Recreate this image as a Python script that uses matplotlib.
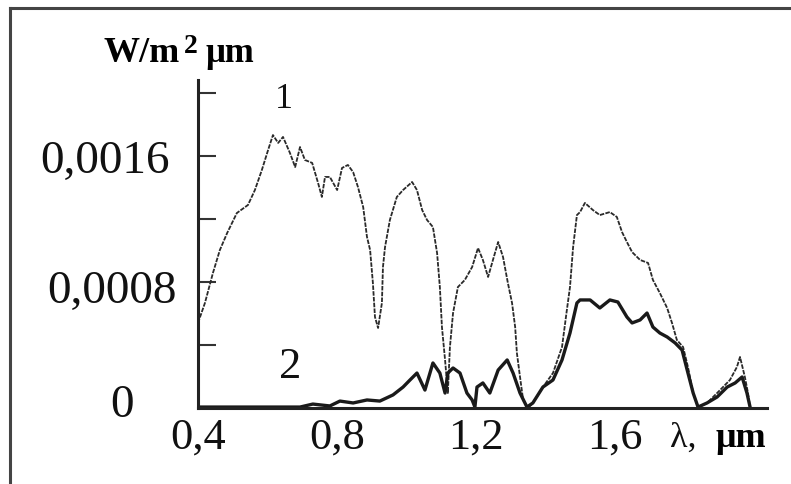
import numpy as np
import matplotlib.pyplot as plt
from matplotlib.lines import Line2D

plt.rcParams['font.family'] = ['Liberation Serif', 'DejaVu Serif']

# curve 1 (thin, upper spectrum), irradiance in units of 1e-4 W/m2 um
wl1 = [0.400, 0.420, 0.443, 0.463, 0.484, 0.512, 0.544, 0.564, 0.584, 0.602,
       0.616, 0.631, 0.645, 0.665, 0.680, 0.694, 0.708, 0.729, 0.746, 0.757,
       0.766, 0.780, 0.801, 0.815, 0.832, 0.847, 0.861, 0.876, 0.887, 0.896,
       0.904, 0.910, 0.919, 0.930, 0.933, 0.939, 0.953, 0.973, 0.991, 1.017,
       1.031, 1.046, 1.060, 1.077, 1.089, 1.097, 1.103, 1.112, 1.120, 1.126,
       1.135, 1.149, 1.169, 1.190, 1.207, 1.221, 1.236, 1.250, 1.265, 1.279,
       1.293, 1.305, 1.314, 1.319, 1.328, 1.337, 1.351, 1.365, 1.394, 1.423,
       1.449, 1.463, 1.472, 1.481, 1.492, 1.501, 1.515, 1.538, 1.558, 1.587,
       1.607, 1.622, 1.636, 1.651, 1.674, 1.697, 1.711, 1.731, 1.752, 1.766,
       1.780, 1.798, 1.812, 1.827, 1.841, 1.867, 1.896, 1.913, 1.933, 1.953,
       1.962, 1.976, 1.985, 1.991]
e1 = [5.40, 6.67, 8.57, 10.03, 11.11, 12.38, 12.89, 13.84, 15.11, 16.38,
      17.33, 16.83, 17.21, 16.19, 15.30, 16.57, 15.75, 15.56, 14.29, 13.40,
      14.67, 14.67, 13.84, 15.24, 15.43, 14.98, 14.03, 12.76, 10.86, 10.03,
      7.94, 5.78, 5.08, 6.67, 8.95, 10.22, 11.94, 13.40, 13.84, 14.35,
      13.84, 12.57, 11.94, 11.49, 9.84, 7.68, 5.14, 3.05, 0.95, 3.87,
      6.03, 7.68, 8.13, 8.95, 10.16, 9.40, 8.32, 9.40, 10.54, 9.59,
      7.94, 6.67, 5.14, 3.49, 1.97, 0.51, 0.00, 0.32, 1.33, 2.22,
      3.87, 6.22, 7.68, 10.22, 12.25, 12.44, 13.02, 12.57, 12.25, 12.44,
      12.13, 11.17, 10.54, 9.90, 9.40, 9.21, 8.13, 7.30, 6.35, 5.40,
      4.32, 3.87, 2.60, 0.95, 0.06, 0.32, 0.95, 1.33, 1.78, 2.60,
      3.24, 1.97, 0.95, 0.06]

# curve 2 (thick, lower spectrum)
wl2 = [0.400, 0.694, 0.731, 0.780, 0.809, 0.847, 0.887, 0.924, 0.962, 0.991,
       1.011, 1.031, 1.054, 1.077, 1.097, 1.112, 1.120, 1.135, 1.155, 1.175,
       1.190, 1.198, 1.204, 1.221, 1.241, 1.265, 1.291, 1.308, 1.328, 1.348,
       1.365, 1.394, 1.423, 1.449, 1.472, 1.492, 1.501, 1.530, 1.558, 1.587,
       1.610, 1.636, 1.651, 1.674, 1.694, 1.711, 1.731, 1.752, 1.775, 1.795,
       1.812, 1.827, 1.841, 1.867, 1.896, 1.925, 1.948, 1.968, 1.982, 1.991]
e2 = [0.06, 0.06, 0.25, 0.13, 0.44, 0.32, 0.51, 0.44, 0.83, 1.33,
      1.78, 2.22, 1.14, 2.86, 2.22, 0.95, 2.22, 2.54, 2.22, 0.95,
      0.51, 0.06, 1.33, 1.59, 0.95, 2.41, 3.05, 2.22, 0.95, 0.06,
      0.32, 1.33, 1.78, 3.05, 4.76, 6.67, 6.86, 6.86, 6.35, 6.86,
      6.73, 5.78, 5.40, 5.59, 6.03, 5.14, 4.76, 4.51, 4.13, 3.68,
      2.22, 0.95, 0.06, 0.32, 0.70, 1.33, 1.59, 1.97, 0.95, 0.06]

xticks = [0.4, 0.8, 1.2, 1.6]
xlabels = ['0,4', '0,8', '1,2', '1,6']
yticks = [0.0004, 0.0008, 0.0012, 0.0016, 0.0020]
ylabels = [(0.0016, '0,0016'), (0.0008, '0,0008'), (0.0, '0')]

W, H = 791, 484
fig = plt.figure(figsize=(W / 100, H / 100), dpi=100)
ax = fig.add_axes([198 / W, 1 - 408 / H, 569 / W, 328 / H])

ax.plot(wl1, np.array(e1) * 1e-4, color='#2a2a2a', lw=1.3, linestyle=(0, (2.5, 0.7)))
ax.plot(wl2, np.array(e2) * 1e-4, color='#1a1a1a', lw=2.4)

ax.set_xlim(0.4, 0.4 + 569 / 347)
ax.set_ylim(0, 328 / 157500)

for s in ['top', 'right']:
    ax.spines[s].set_visible(False)
for s in ['left', 'bottom']:
    ax.spines[s].set_linewidth(2.2)
    ax.spines[s].set_color('#222222')

ax.set_yticks(yticks)
ax.set_yticklabels([])
ax.tick_params(axis='y', direction='in', length=13, width=1.5, color='#333333')

ax.set_xticks(xticks)
ax.set_xticklabels(xlabels)
ax.tick_params(axis='x', length=0, labelsize=32, pad=7, labelcolor='#111111')
ax.set_xticks([1.6], minor=True)
ax.tick_params(axis='x', which='minor', direction='in', length=10, width=1.5, color='#333333')

# y labels sit at odd offsets in the scan
offs = {'0,0016': (-93, -17), '0,0008': (-86, -21), '0': (-76, -9)}
for v, lab in ylabels:
    ax.annotate(lab, xy=(0, v), xycoords=('axes fraction', 'data'),
                xytext=offs[lab], textcoords='offset pixels',
                ha='center', va='baseline', fontsize=34, color='#111111')

ax.text(0.648, 0.00196, '1', ha='center', va='center', fontsize=26, color='#111111')
ax.text(0.665, 0.00026, '2', ha='center', va='center', fontsize=32, color='#111111')

# unit labels
fig.text(104 / W, 1 - 62 / H, 'W/m', fontsize=26, weight='bold', va='baseline')
fig.text(184 / W, 1 - 53 / H, '2', fontsize=20, weight='bold', va='baseline')
fig.text(205 / W, 1 - 62 / H, 'μm', fontsize=25, weight='bold', va='baseline')
fig.text(670 / W, 1 - 447 / H, 'λ,', fontsize=26, va='baseline', color='#111111')
fig.text(716 / W, 1 - 447 / H, 'μm', fontsize=26, weight='bold', va='baseline')

# frame of the scanned figure
fig.add_artist(Line2D([10 / W, 10 / W], [0, 1 - 8 / H], transform=fig.transFigure,
                      lw=2.2, color='#444444'))
fig.add_artist(Line2D([10 / W, 1], [1 - 8 / H, 1 - 8 / H], transform=fig.transFigure,
                      lw=2.2, color='#444444'))

fig.savefig('out.png', dpi=100)
